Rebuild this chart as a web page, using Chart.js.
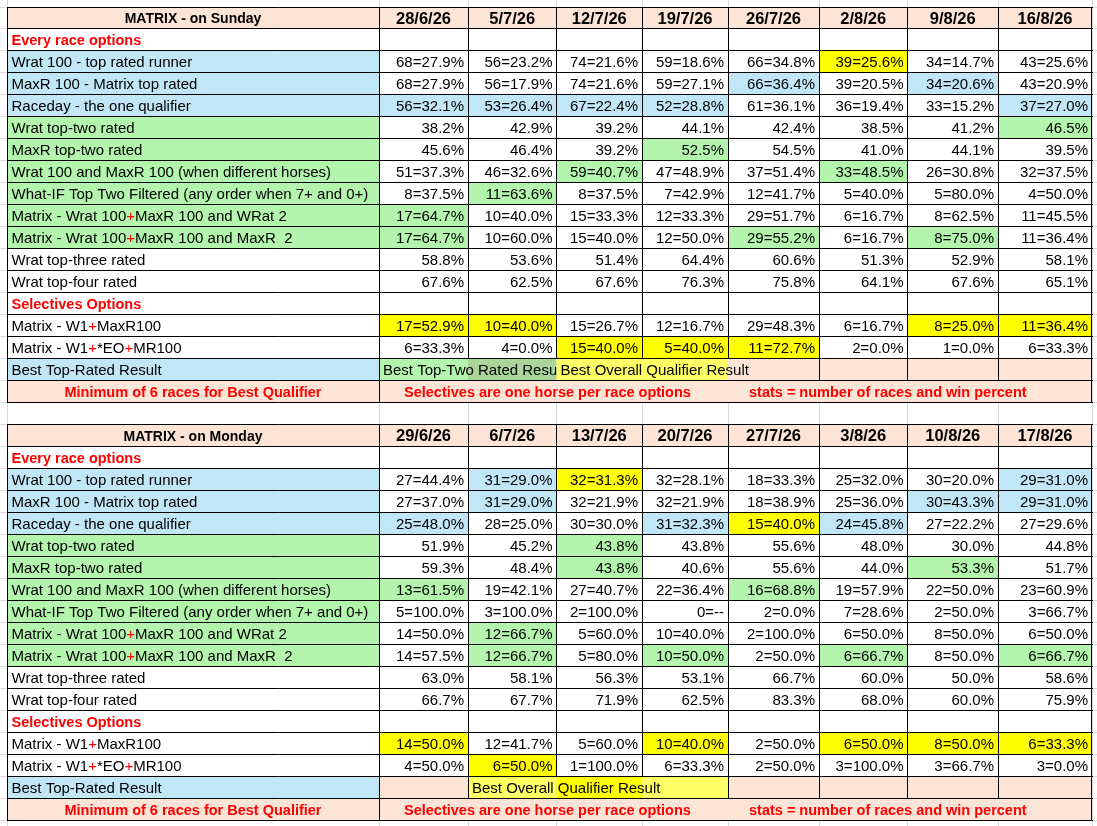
<!DOCTYPE html>
<html>
<head>
<meta charset="utf-8">
<title>MATRIX</title>
<script src="https://cdn.jsdelivr.net/npm/chart.js@4.4.1/dist/chart.umd.min.js"></script>
<style>
  html, body { margin: 0; padding: 0; background: #fff; }
  #wrap { width: 1097px; height: 826px; position: relative; }
</style>
</head>
<body>
<div id="wrap"><canvas id="matrix"></canvas></div>
<script>
// ---- data ----
const sundayDates = ['28/6/26', '5/7/26', '12/7/26', '19/7/26', '26/7/26', '2/8/26', '9/8/26', '16/8/26'];
const mondayDates = ['29/6/26', '6/7/26', '13/7/26', '20/7/26', '27/7/26', '3/8/26', '10/8/26', '17/8/26'];

const everyRaceLabels = [
    'Wrat 100 - top rated runner',
    'MaxR 100 - Matrix top rated',
    'Raceday - the one qualifier',
    'Wrat top-two rated',
    'MaxR top-two rated',
    'Wrat 100 and MaxR 100 (when different horses)',
    'What-IF Top Two Filtered (any order when 7+ and 0+)',
    'Matrix - Wrat 100+MaxR 100 and WRat 2',
    'Matrix - Wrat 100+MaxR 100 and MaxR  2',
    'Wrat top-three rated',
    'Wrat top-four rated'
];
const selectiveLabels = ['Matrix - W1+MaxR100', 'Matrix - W1+*EO+MR100'];

const sundayEvery = [
    ['68=27.9%', '56=23.2%', '74=21.6%', '59=18.6%', '66=34.8%', '39=25.6%', '34=14.7%', '43=25.6%'],
    ['68=27.9%', '56=17.9%', '74=21.6%', '59=27.1%', '66=36.4%', '39=20.5%', '34=20.6%', '43=20.9%'],
    ['56=32.1%', '53=26.4%', '67=22.4%', '52=28.8%', '61=36.1%', '36=19.4%', '33=15.2%', '37=27.0%'],
    ['38.2%', '42.9%', '39.2%', '44.1%', '42.4%', '38.5%', '41.2%', '46.5%'],
    ['45.6%', '46.4%', '39.2%', '52.5%', '54.5%', '41.0%', '44.1%', '39.5%'],
    ['51=37.3%', '46=32.6%', '59=40.7%', '47=48.9%', '37=51.4%', '33=48.5%', '26=30.8%', '32=37.5%'],
    ['8=37.5%', '11=63.6%', '8=37.5%', '7=42.9%', '12=41.7%', '5=40.0%', '5=80.0%', '4=50.0%'],
    ['17=64.7%', '10=40.0%', '15=33.3%', '12=33.3%', '29=51.7%', '6=16.7%', '8=62.5%', '11=45.5%'],
    ['17=64.7%', '10=60.0%', '15=40.0%', '12=50.0%', '29=55.2%', '6=16.7%', '8=75.0%', '11=36.4%'],
    ['58.8%', '53.6%', '51.4%', '64.4%', '60.6%', '51.3%', '52.9%', '58.1%'],
    ['67.6%', '62.5%', '67.6%', '76.3%', '75.8%', '64.1%', '67.6%', '65.1%']
];
const sundaySelective = [
    ['17=52.9%', '10=40.0%', '15=26.7%', '12=16.7%', '29=48.3%', '6=16.7%', '8=25.0%', '11=36.4%'],
    ['6=33.3%', '4=0.0%', '15=40.0%', '5=40.0%', '11=72.7%', '2=0.0%', '1=0.0%', '6=33.3%']
];

const mondayEvery = [
    ['27=44.4%', '31=29.0%', '32=31.3%', '32=28.1%', '18=33.3%', '25=32.0%', '30=20.0%', '29=31.0%'],
    ['27=37.0%', '31=29.0%', '32=21.9%', '32=21.9%', '18=38.9%', '25=36.0%', '30=43.3%', '29=31.0%'],
    ['25=48.0%', '28=25.0%', '30=30.0%', '31=32.3%', '15=40.0%', '24=45.8%', '27=22.2%', '27=29.6%'],
    ['51.9%', '45.2%', '43.8%', '43.8%', '55.6%', '48.0%', '30.0%', '44.8%'],
    ['59.3%', '48.4%', '43.8%', '40.6%', '55.6%', '44.0%', '53.3%', '51.7%'],
    ['13=61.5%', '19=42.1%', '27=40.7%', '22=36.4%', '16=68.8%', '19=57.9%', '22=50.0%', '23=60.9%'],
    ['5=100.0%', '3=100.0%', '2=100.0%', '0=--', '2=0.0%', '7=28.6%', '2=50.0%', '3=66.7%'],
    ['14=50.0%', '12=66.7%', '5=60.0%', '10=40.0%', '2=100.0%', '6=50.0%', '8=50.0%', '6=50.0%'],
    ['14=57.5%', '12=66.7%', '5=80.0%', '10=50.0%', '2=50.0%', '6=66.7%', '8=50.0%', '6=66.7%'],
    ['63.0%', '58.1%', '56.3%', '53.1%', '66.7%', '60.0%', '50.0%', '58.6%'],
    ['66.7%', '67.7%', '71.9%', '62.5%', '83.3%', '68.0%', '60.0%', '75.9%']
];
const mondaySelective = [
    ['14=50.0%', '12=41.7%', '5=60.0%', '10=40.0%', '2=50.0%', '6=50.0%', '8=50.0%', '6=33.3%'],
    ['4=50.0%', '6=50.0%', '1=100.0%', '6=33.3%', '2=50.0%', '3=100.0%', '3=66.7%', '3=0.0%']
];

// highlight marks per cell: B blue, G green, Y yellow, . none
const labelMarks = ['B', 'B', 'B', 'G', 'G', 'G', 'G', 'G', 'G', '.', '.'];
const sundayEveryMarks = ['.....Y..', '....B.B.', 'BBBB...B', '.......G', '...G....', '..G..G..', '.G......', 'G.......', 'G...G.G.', '........', '........'];
const sundaySelectiveMarks = ['YY....YY', '..YYY...'];
const mondayEveryMarks = ['.BY....B', '.B....BB', 'B..BYB..', '..G.....', '..G...G.', 'G...G...', '........', '.G......', '.G.G.G.G', '........', '........'];
const mondaySelectiveMarks = ['Y..Y.YYY', '.Y......'];

const footNotes = ['Minimum of 6 races for Best Qualifier', 'Selectives are one horse per race options', 'stats = number of races and win percent'];

// ---- layout / styles ----
const colWidths = [372, 89, 88.5, 85.5, 86, 91, 88.5, 90.5, 94];
const colEdges = colWidths.reduce((acc, w) => { acc.push(acc[acc.length - 1] + w); return acc; }, [0]);
const footNoteX = [null, 397, 742];
const FILL = {
    P: '#fce4d6', B: '#c1e6f5', G: '#b4f5ad', g: '#a9d59a',
    Y: '#ffff00', y: '#ffff66', W: '#ffffff', '.': '#ffffff'
};
const FONT = '"Liberation Sans", Arial, sans-serif';
const RED = '#ff0000';

function buildTable(title, dates, every, everyMarks, sel, selMarks, best) {
    const rows = [];
    rows.push({ kind: 'head', title: title, dates: dates });
    rows.push({ kind: 'section', text: 'Every race options' });
    every.forEach((vals, i) => rows.push({ kind: 'data', label: everyRaceLabels[i], labelFill: labelMarks[i], vals: vals, marks: everyMarks[i] }));
    rows.push({ kind: 'section', text: 'Selectives Options' });
    sel.forEach((vals, i) => rows.push({ kind: 'data', label: selectiveLabels[i], labelFill: '.', vals: vals, marks: selMarks[i] }));
    rows.push(Object.assign({ kind: 'best' }, best));
    rows.push({ kind: 'foot' });
    return rows;
}

const tableRows = [].concat(
    buildTable('MATRIX - on Sunday', sundayDates, sundayEvery, sundayEveryMarks, sundaySelective, sundaySelectiveMarks, {
        fills: 'BGgyyPPPP',
        notes: [{ col: 1, text: 'Best Top-Two Rated Result', clip: 3 }, { col: 3, text: 'Best Overall Qualifier Result' }],
        borders: [0, 1, 6, 7, 8, 9]
    }),
    [{ kind: 'gap' }],
    buildTable('MATRIX - on Monday', mondayDates, mondayEvery, mondayEveryMarks, mondaySelective, mondaySelectiveMarks, {
        fills: 'BPyYyPPPP',
        notes: [{ col: 2, text: 'Best Overall Qualifier Result' }],
        borders: [0, 1, 2, 5, 6, 7, 8, 9]
    })
);

// ---- drawing through the chart scales ----
function box(chart, c0, c1, r) {
    const sx = chart.scales.x, sy = chart.scales.y;
    return {
        x0: sx.getPixelForValue(colEdges[c0]), x1: sx.getPixelForValue(colEdges[c1]),
        y0: sy.getPixelForValue(r), y1: sy.getPixelForValue(r + 1)
    };
}
const snap = v => Math.floor(v) + 0.5;

function drawRich(ctx, text, x, y, redPlus) {
    if (!redPlus) { ctx.fillText(text, x, y); return; }
    const parts = text.split('+');
    parts.forEach((p, i) => {
        ctx.fillStyle = '#000';
        ctx.fillText(p, x, y);
        x += ctx.measureText(p).width;
        if (i < parts.length - 1) {
            ctx.fillStyle = RED;
            ctx.fillText('+', x, y);
            x += ctx.measureText('+').width;
        }
    });
    ctx.fillStyle = '#000';
}

function hLine(ctx, x0, x1, y) {
    ctx.beginPath(); ctx.moveTo(x0, snap(y)); ctx.lineTo(x1, snap(y)); ctx.stroke();
}
function vLine(ctx, x, y0, y1) {
    ctx.beginPath(); ctx.moveTo(snap(x), y0); ctx.lineTo(snap(x), y1); ctx.stroke();
}

const tablePlugin = {
    id: 'matrixTable',
    beforeDraw(chart) {
        const ctx = chart.ctx, sx = chart.scales.x, sy = chart.scales.y;
        ctx.save();
        ctx.fillStyle = '#fff';
        ctx.fillRect(0, 0, chart.width, chart.height);
        // faint sheet gridlines
        ctx.strokeStyle = '#dadada';
        ctx.lineWidth = 1;
        const extra = colEdges[colEdges.length - 1] + 100;
        colEdges.concat([extra]).forEach(e => vLine(ctx, sx.getPixelForValue(e), 0, chart.height));
        for (let r = 0; r <= tableRows.length + 1; r++) hLine(ctx, 0, chart.width, sy.getPixelForValue(r));
        ctx.restore();
    },
    afterDraw(chart) {
        const ctx = chart.ctx;
        const nCols = colWidths.length;
        ctx.save();
        ctx.textBaseline = 'alphabetic';
        tableRows.forEach((row, r) => {
            if (row.kind === 'gap') return;
            const full = box(chart, 0, nCols, r);
            const base = full.y1 - 5.5;
            // backgrounds
            for (let c = 0; c < nCols; c++) {
                const b = box(chart, c, c + 1, r);
                let f = '.';
                if (row.kind === 'head' || row.kind === 'foot') f = 'P';
                else if (row.kind === 'data') f = c === 0 ? row.labelFill : row.marks[c - 1];
                else if (row.kind === 'best') f = row.fills[c];
                ctx.fillStyle = FILL[f];
                ctx.fillRect(b.x0, b.y0, b.x1 - b.x0, b.y1 - b.y0);
            }
            // texts
            ctx.fillStyle = '#000';
            if (row.kind === 'head') {
                ctx.textAlign = 'center';
                ctx.font = 'bold 14px ' + FONT;
                const b0 = box(chart, 0, 1, r);
                ctx.fillText(row.title, (b0.x0 + b0.x1) / 2, base);
                ctx.font = 'bold 16.5px ' + FONT;
                row.dates.forEach((d, i) => {
                    const b = box(chart, i + 1, i + 2, r);
                    ctx.fillText(d, (b.x0 + b.x1) / 2, base + 0.5);
                });
            } else if (row.kind === 'section') {
                ctx.textAlign = 'left';
                ctx.font = 'bold 14.5px ' + FONT;
                ctx.fillStyle = RED;
                ctx.fillText(row.text, full.x0 + 4.5, base);
            } else if (row.kind === 'data') {
                ctx.font = '15px ' + FONT;
                ctx.textAlign = 'left';
                drawRich(ctx, row.label, full.x0 + 4.5, base, row.label.startsWith('Matrix'));
                ctx.textAlign = 'right';
                row.vals.forEach((v, i) => {
                    const b = box(chart, i + 1, i + 2, r);
                    ctx.fillText(v, b.x1 - 4, base);
                });
            } else if (row.kind === 'best') {
                ctx.font = '15px ' + FONT;
                ctx.textAlign = 'left';
                ctx.fillText('Best Top-Rated Result', full.x0 + 4.5, base);
                row.notes.forEach(n => {
                    const b = box(chart, n.col, n.clip || nCols, r);
                    ctx.save();
                    if (n.clip) { ctx.beginPath(); ctx.rect(b.x0, b.y0, b.x1 - b.x0, b.y1 - b.y0); ctx.clip(); }
                    ctx.fillText(n.text, b.x0 + 4, base);
                    ctx.restore();
                });
            } else if (row.kind === 'foot') {
                ctx.font = 'bold 14.5px ' + FONT;
                ctx.fillStyle = RED;
                const b0 = box(chart, 0, 1, r);
                ctx.textAlign = 'center';
                ctx.fillText(footNotes[0], (b0.x0 + b0.x1) / 2, base);
                ctx.textAlign = 'left';
                const sx = chart.scales.x;
                for (let i = 1; i < footNotes.length; i++) {
                    ctx.fillText(footNotes[i], sx.getPixelForValue(footNoteX[i]), base);
                }
            }
            // borders
            ctx.strokeStyle = '#000';
            ctx.lineWidth = 1;
            hLine(ctx, full.x0, full.x1 + 1, full.y0);
            hLine(ctx, full.x0, full.x1 + 1, full.y1);
            let edges = colEdges.map((e, i) => i);
            if (row.kind === 'best') edges = row.borders;
            if (row.kind === 'foot') edges = [0, 1, nCols];
            edges.forEach(i => {
                const x = chart.scales.x.getPixelForValue(colEdges[i]);
                vLine(ctx, i === nCols ? x - 1 : x, snap(full.y0), snap(full.y1));
            });
        });
        ctx.restore();
    }
};

// one invisible point per value cell keeps the table tied to the chart scales
const cellPoints = [];
tableRows.forEach((row, r) => {
    if (row.kind !== 'data') return;
    row.vals.forEach((v, i) => cellPoints.push({ x: (colEdges[i + 1] + colEdges[i + 2]) / 2, y: r + 0.5 }));
});

new Chart(document.getElementById('matrix').getContext('2d'), {
    type: 'scatter',
    data: { datasets: [{ label: 'cells', data: cellPoints, pointRadius: 0, pointHoverRadius: 0 }] },
    options: {
        responsive: true,
        maintainAspectRatio: false,
        animation: false,
        events: [],
        layout: { padding: { left: 7, right: 5, top: 7, bottom: 6 } },
        plugins: { legend: { display: false }, tooltip: { enabled: false } },
        scales: {
            x: { type: 'linear', min: 0, max: colEdges[colEdges.length - 1], display: false },
            y: { type: 'linear', min: 0, max: tableRows.length, reverse: true, display: false }
        }
    },
    plugins: [tablePlugin]
});
</script>
</body>
</html>
